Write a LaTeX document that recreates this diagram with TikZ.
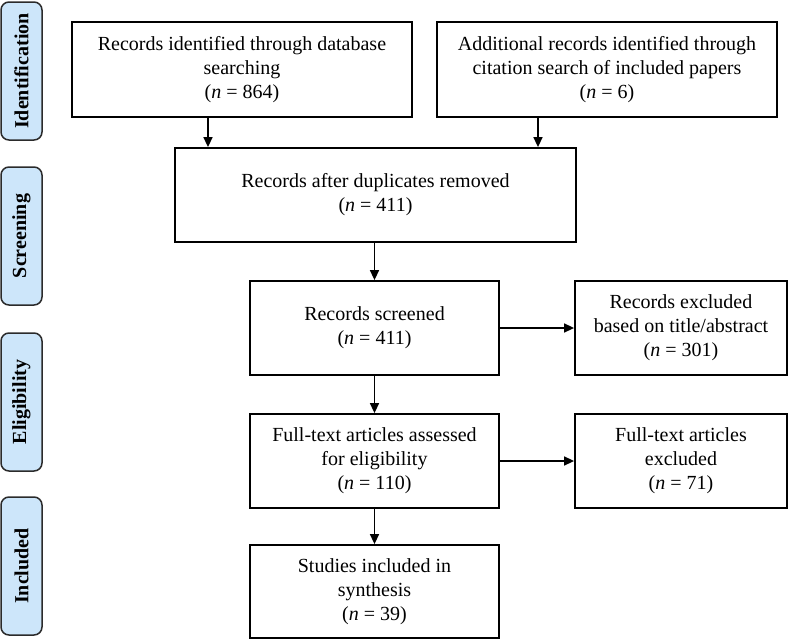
\documentclass[tikz,border=0pt]{standalone}
\usepackage{fontspec}
\setmainfont{Liberation Serif}
\usetikzlibrary{arrows.meta}
\definecolor{phasefill}{HTML}{CDE6FA}
\definecolor{phaseline}{HTML}{2B2B2B}
\tikzset{
  flowbox/.style={draw, line width=1.8pt, align=center, inner sep=2pt,
    font=\fontsize{20}{24}\selectfont},
  phasebox/.style={draw=phaseline, fill=phasefill, line width=1.5pt, rounded corners=8pt,
    rotate=90, minimum width=138, minimum height=41, inner sep=0pt,
    font=\fontsize{20}{24}\selectfont\bfseries},
  arr/.style={line width=1.5pt, -{Triangle[length=10pt,width=9pt]}}
}
\begin{document}
\begin{tikzpicture}[x=1pt, y=-1pt]
  \useasboundingbox (0,0) rectangle (788,640);
  % Phase labels
  \foreach \name/\lbl/\ypos in {pid/Identification/71, psc/Screening/236,
      pel/Eligibility/402, pin/Included/566} {
    \node[phasebox] (\name) at (21.5, \ypos) {\lbl};
  }

  % Boxes
  \node[flowbox, minimum width=340, minimum height=95] (db) at (242, 69.5)
    {Records identified through database\\searching\\(\textit{n} = 864)};
  \node[flowbox, minimum width=340, minimum height=95] (extra) at (607, 69.5)
    {Additional records identified through\\citation search of included papers\\(\textit{n} = 6)};
  \node[flowbox, minimum width=401, minimum height=94] (dup) at (375.5, 195)
    {Records after duplicates removed\\(\textit{n} = 411)};
  \node[flowbox, minimum width=249, minimum height=94] (scr) at (374.5, 328)
    {Records screened\\(\textit{n} = 411)};
  \node[flowbox, minimum width=212, minimum height=94] (exc1) at (681, 328)
    {Records excluded\\based on title/abstract\\(\textit{n} = 301)};
  \node[flowbox, minimum width=249, minimum height=94] (full) at (374.5, 461)
    {Full-text articles assessed\\for eligibility\\(\textit{n} = 110)};
  \node[flowbox, minimum width=212, minimum height=94] (exc2) at (681, 461)
    {Full-text articles\\excluded\\(\textit{n} = 71)};
  \node[flowbox, minimum width=249, minimum height=93] (inc) at (374.5, 591.5)
    {Studies included in\\synthesis\\(\textit{n} = 39)};

  % Arrows
  \draw[arr] ([xshift=-34]db.south) -- ([xshift=-34]db.south |- dup.north);
  \draw[arr] ([xshift=-69]extra.south) -- ([xshift=-69]extra.south |- dup.north);
  \draw[arr] (dup.south -| scr.north) -- (scr.north);
  \draw[arr] (scr.east) -- (exc1.west);
  \draw[arr] (full.east) -- (exc2.west);
  \draw[arr] (scr.south) -- (full.north);
  \draw[arr] (full.south) -- (inc.north);
\end{tikzpicture}
\end{document}
